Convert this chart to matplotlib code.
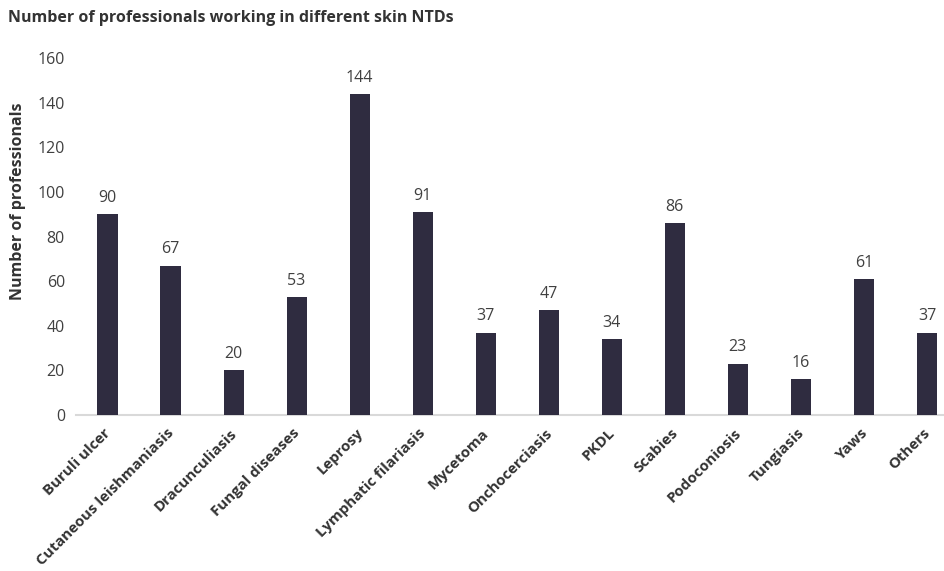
import matplotlib
matplotlib.use("Agg")
import matplotlib.pyplot as plt

plt.rcParams['font.family'] = ['Open Sans', 'DejaVu Sans']

categories = ["Buruli ulcer", "Cutaneous leishmaniasis", "Dracunculiasis", "Fungal diseases",
              "Leprosy", "Lymphatic filariasis", "Mycetoma", "Onchocerciasis", "PKDL",
              "Scabies", "Podoconiosis", "Tungiasis", "Yaws", "Others"]
values = [90, 67, 20, 53, 144, 91, 37, 47, 34, 86, 23, 16, 61, 37]
yticks = [0, 20, 40, 60, 80, 100, 120, 140, 160]

bar_color = "#2f2c40"
text_color = "#333333"
num_color = "#404040"
FS = 11.5

fig = plt.figure(figsize=(9.44, 5.71), dpi=100)
ax = fig.add_axes([76/944, 1 - 415/571, 1 - 76/944, (415 - 58.3)/571])

x = list(range(len(categories)))
ax.bar(x, values, width=0.32, color=bar_color, zorder=3)
for xi, v in zip(x, values):
    ax.annotate(str(v), (xi, v), xytext=(0, 6), textcoords="offset points",
                ha="center", va="bottom", fontsize=FS, color=num_color)

ax.set_xlim(-0.5, 13.27)
ax.set_ylim(0, 160)
ax.set_yticks(yticks)
ax.set_yticklabels([str(t) for t in yticks], fontsize=FS, color=num_color)
ax.set_xticks(x)
ax.set_xticklabels([])
for xi, lab in zip(x, categories):
    ax.annotate(lab, (xi, 0), xycoords=("data", "axes fraction"),
                xytext=(1, -16), textcoords="offset pixels",
                rotation=45, rotation_mode="anchor", ha="right", va="center",
                fontsize=10.8, fontweight="bold", color=text_color,
                annotation_clip=False)
ax.tick_params(axis="both", length=0)
ax.tick_params(axis="y", pad=8)
for s in ["top", "right", "left"]:
    ax.spines[s].set_visible(False)
ax.spines["bottom"].set_color("#d9d9d9")
ax.spines["bottom"].set_linewidth(1.5)

fig.text(18/944, 1 - 201/571, "Number of professionals", rotation=90,
         fontsize=FS, fontweight="bold", color=text_color, ha="center", va="center")

fig.text(8/944, 1 - 18/571, "Number of professionals working in different skin NTDs",
         fontsize=FS, fontweight="bold", color=text_color, ha="left", va="center")

fig.savefig("out.png", dpi=100)
